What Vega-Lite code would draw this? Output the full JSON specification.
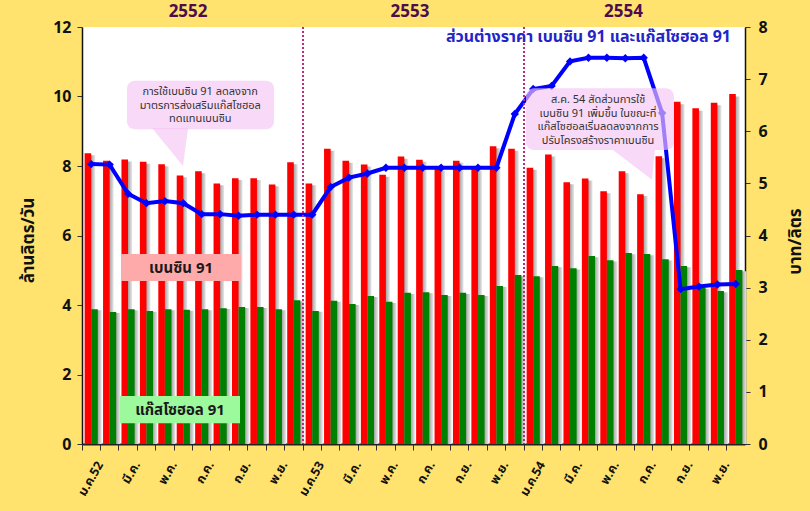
{
  "$schema": "https://vega.github.io/schema/vega-lite/v6.json",
  "width": 663,
  "height": 417,
  "autosize": "none",
  "padding": {"left": 82, "top": 27, "right": 65, "bottom": 67},
  "background": "#FFE36E",
  "config": {
    "view": {"stroke": null, "fill": "#FFFFFF"},
    "font": "Tahoma, Noto Sans Thai, Noto Sans, DejaVu Sans, sans-serif"
  },
  "data": {
    "values": [
      {"m": "ม.ค.52", "benzine": 8.37, "gasohol": 3.88, "diff": 5.37},
      {"m": "ก.พ.52", "benzine": 8.15, "gasohol": 3.80, "diff": 5.36},
      {"m": "มี.ค.52", "benzine": 8.19, "gasohol": 3.88, "diff": 4.80},
      {"m": "เม.ย.52", "benzine": 8.12, "gasohol": 3.83, "diff": 4.62},
      {"m": "พ.ค.52", "benzine": 8.05, "gasohol": 3.88, "diff": 4.66},
      {"m": "มิ.ย.52", "benzine": 7.73, "gasohol": 3.86, "diff": 4.62},
      {"m": "ก.ค.52", "benzine": 7.85, "gasohol": 3.88, "diff": 4.41},
      {"m": "ส.ค.52", "benzine": 7.50, "gasohol": 3.91, "diff": 4.41},
      {"m": "ก.ย.52", "benzine": 7.65, "gasohol": 3.94, "diff": 4.38},
      {"m": "ต.ค.52", "benzine": 7.65, "gasohol": 3.94, "diff": 4.40},
      {"m": "พ.ย.52", "benzine": 7.47, "gasohol": 3.88, "diff": 4.40},
      {"m": "ธ.ค.52", "benzine": 8.11, "gasohol": 4.14, "diff": 4.40},
      {"m": "ม.ค.53", "benzine": 7.50, "gasohol": 3.83, "diff": 4.40},
      {"m": "ก.พ.53", "benzine": 8.50, "gasohol": 4.12, "diff": 4.93},
      {"m": "มี.ค.53", "benzine": 8.15, "gasohol": 4.03, "diff": 5.11},
      {"m": "เม.ย.53", "benzine": 8.04, "gasohol": 4.26, "diff": 5.19},
      {"m": "พ.ค.53", "benzine": 7.75, "gasohol": 4.09, "diff": 5.30},
      {"m": "มิ.ย.53", "benzine": 8.27, "gasohol": 4.35, "diff": 5.30},
      {"m": "ก.ค.53", "benzine": 8.18, "gasohol": 4.37, "diff": 5.30},
      {"m": "ส.ค.53", "benzine": 7.92, "gasohol": 4.29, "diff": 5.30},
      {"m": "ก.ย.53", "benzine": 8.15, "gasohol": 4.35, "diff": 5.30},
      {"m": "ต.ค.53", "benzine": 7.92, "gasohol": 4.29, "diff": 5.30},
      {"m": "พ.ย.53", "benzine": 8.57, "gasohol": 4.55, "diff": 5.30},
      {"m": "ธ.ค.53", "benzine": 8.50, "gasohol": 4.86, "diff": 6.33},
      {"m": "ม.ค.54", "benzine": 7.95, "gasohol": 4.83, "diff": 6.81},
      {"m": "ก.พ.54", "benzine": 8.33, "gasohol": 5.12, "diff": 6.87},
      {"m": "มี.ค.54", "benzine": 7.53, "gasohol": 5.06, "diff": 7.34},
      {"m": "เม.ย.54", "benzine": 7.64, "gasohol": 5.41, "diff": 7.41},
      {"m": "พ.ค.54", "benzine": 7.27, "gasohol": 5.29, "diff": 7.41},
      {"m": "มิ.ย.54", "benzine": 7.85, "gasohol": 5.50, "diff": 7.40},
      {"m": "ก.ค.54", "benzine": 7.19, "gasohol": 5.47, "diff": 7.41},
      {"m": "ส.ค.54", "benzine": 8.28, "gasohol": 5.32, "diff": 6.35},
      {"m": "ก.ย.54", "benzine": 9.85, "gasohol": 5.12, "diff": 2.97},
      {"m": "ต.ค.54", "benzine": 9.66, "gasohol": 4.50, "diff": 3.02},
      {"m": "พ.ย.54", "benzine": 9.82, "gasohol": 4.40, "diff": 3.06},
      {"m": "ธ.ค.54", "benzine": 10.07, "gasohol": 5.01, "diff": 3.07}
    ]
  },
  "layer": [
    {
      "transform": [{"fold": ["benzine", "gasohol"], "as": ["series", "value"]}],
      "mark": {
        "type": "bar",
        "color": {"gradient": "linear", "x1": 0, "y1": 0, "x2": 1, "y2": 0,
          "stops": [{"offset": 0, "color": "#7a7a7a"}, {"offset": 1, "color": "#e8e8e8"}]}
      },
      "encoding": {
        "x": {"field": "m", "type": "nominal", "sort": null, "axis": null,
          "scale": {"paddingInner": 0, "paddingOuter": 0, "range": [4, 667]}},
        "xOffset": {"field": "series", "type": "nominal", "scale": {"paddingInner": 0, "paddingOuter": 0.4}},
        "y": {"field": "value", "type": "quantitative", "axis": null,
          "scale": {"domain": [0, 12], "nice": false, "range": [417, 3]}}
      }
    },
    {
      "transform": [{"fold": ["benzine", "gasohol"], "as": ["series", "value"]}],
      "mark": {"type": "bar"},
      "encoding": {
        "x": {
          "field": "m", "type": "nominal", "sort": null,
          "scale": {"paddingInner": 0, "paddingOuter": 0},
          "axis": {
            "title": null, "bandPosition": 0, "labelOffset": 9,
            "labelAngle": -60, "labelAlign": "right", "labelBaseline": "middle",
            "labelFontWeight": "bold", "labelFontSize": 12.5, "labelColor": "#111111",
            "labelPadding": 12, "tickSize": 6, "tickColor": "#333333",
            "domainColor": "#222222", "domainWidth": 2,
            "labelExpr": "indexof(['มี.ค.','พ.ค.','ก.ค.','ก.ย.','พ.ย.'], slice(datum.value, 0, -2)) >= 0 ? slice(datum.value, 0, -2) : (slice(datum.value, 0, 4) == 'ม.ค.' ? datum.value : '')"
          }
        },
        "xOffset": {"field": "series", "type": "nominal", "scale": {"paddingInner": 0, "paddingOuter": 0.4}},
        "y": {
          "field": "value", "type": "quantitative",
          "scale": {"domain": [0, 12], "nice": false},
          "axis": {
            "orient": "left", "values": [0, 2, 4, 6, 8, 10, 12], "grid": false,
            "labelFontSize": 16, "labelFontWeight": "bold", "labelColor": "#111111", "labelPadding": 6,
            "tickSize": 5, "tickColor": "#333333", "domainColor": "#111111", "domainWidth": 1.5,
            "title": "ล้านลิตร/วัน", "titleFontSize": 17, "titleFontWeight": "bold", "titleColor": "#111111",
            "titleAngle": -90, "titleX": -54, "titleY": 213, "titleAlign": "center", "titleBaseline": "middle"
          }
        },
        "color": {"field": "series", "type": "nominal",
          "scale": {"domain": ["benzine", "gasohol"], "range": ["#FF0000", "#008000"]}, "legend": null}
      }
    },
    {
      "encoding": {
        "x": {"field": "m", "type": "nominal", "sort": null, "axis": null},
        "y": {
          "field": "diff", "type": "quantitative",
          "scale": {"domain": [0, 8], "nice": false},
          "axis": {
            "orient": "right", "values": [0, 1, 2, 3, 4, 5, 6, 7, 8], "grid": false,
            "labelFontSize": 16, "labelFontWeight": "bold", "labelColor": "#111111", "labelPadding": 8,
            "tickSize": 5, "tickColor": "#333333", "domainColor": "#111111", "domainWidth": 1.5,
            "title": "บาท/ลิตร", "titleFontSize": 17, "titleFontWeight": "bold", "titleColor": "#111111",
            "titleAngle": -90, "titleX": 50, "titleY": 214, "titleAlign": "center", "titleBaseline": "middle"
          }
        }
      },
      "layer": [
        {"mark": {"type": "line", "color": "#0000FF", "strokeWidth": 4}},
        {"mark": {"type": "point", "shape": "diamond", "filled": true, "size": 70, "color": "#0000FF", "opacity": 1}}
      ]
    },
    {
      "data": {"values": [{}]},
      "layer": [
        {
          "mark": {"type": "rule", "color": "#C0287A", "strokeWidth": 2, "strokeDash": [2, 2]},
          "encoding": {"x": {"datum": 12, "type": "quantitative", "scale": {"domain": [0, 36], "nice": false, "zero": false}, "axis": null}}
        },
        {
          "mark": {"type": "rule", "color": "#C0287A", "strokeWidth": 2, "strokeDash": [2, 2]},
          "encoding": {"x": {"datum": 24, "type": "quantitative", "axis": null}}
        },
        {
          "mark": {"type": "rect", "color": "#F5C4F2", "opacity": 0.65, "cornerRadius": 8},
          "encoding": {
            "x": {"datum": 2.44, "type": "quantitative", "axis": null}, "x2": {"datum": 10.43},
            "y": {"datum": 10.45, "type": "quantitative", "scale": {"domain": [0, 12], "nice": false, "zero": false}, "axis": null}, "y2": {"datum": 9.06}
          }
        },
        {
          "mark": {"type": "point", "shape": "M -0.95 -1 L 0.95 -1 L 0.68 1 Z", "filled": true, "size": 1444, "color": "#F5C4F2", "opacity": 0.65, "strokeWidth": 0},
          "encoding": {"x": {"datum": 4.78, "type": "quantitative", "axis": null}, "y": {"datum": 8.55, "type": "quantitative", "axis": null}}
        },
        {
          "mark": {"type": "text", "text": ["การใช้เบนซิน 91 ลดลงจาก", "มาตรการส่งเสริมแก๊สโซฮอล", "ทดแทนเบนซิน"],
            "fontSize": 11, "lineHeight": 13.5, "color": "#333333", "align": "center", "baseline": "middle"},
          "encoding": {"x": {"datum": 6.42, "type": "quantitative", "axis": null}, "y": {"datum": 10.12, "type": "quantitative", "axis": null}}
        },
        {
          "mark": {"type": "rect", "color": "#F5C4F2", "opacity": 0.65, "cornerRadius": 8},
          "encoding": {
            "x": {"datum": 24.11, "type": "quantitative", "axis": null}, "x2": {"datum": 32.14},
            "y": {"datum": 10.24, "type": "quantitative", "axis": null}, "y2": {"datum": 8.46}
          }
        },
        {
          "mark": {"type": "point", "shape": "M -1 -0.71 L 1 -0.71 L 0.86 0.71 Z", "filled": true, "size": 1764, "color": "#F5C4F2", "opacity": 0.65, "strokeWidth": 0},
          "encoding": {"x": {"datum": 29.97, "type": "quantitative", "axis": null}, "y": {"datum": 8.03, "type": "quantitative", "axis": null}}
        },
        {
          "mark": {"type": "text", "text": ["ส.ค. 54 สัดส่วนการใช้", "เบนซิน 91 เพิ่มขึ้น ในขณะที่", "แก๊สโซฮอลเริ่มลดลงจากการ", "ปรับโครงสร้างราคาเบนซิน"],
            "fontSize": 11, "lineHeight": 13.4, "color": "#333333", "align": "center", "baseline": "middle"},
          "encoding": {"x": {"datum": 28.02, "type": "quantitative", "axis": null}, "y": {"datum": 9.89, "type": "quantitative", "axis": null}}
        },
        {
          "mark": {"type": "rect", "color": "#FFAAAA", "opacity": 1},
          "encoding": {
            "x": {"datum": 2.12, "type": "quantitative", "axis": null}, "x2": {"datum": 8.63},
            "y": {"datum": 5.47, "type": "quantitative", "axis": null}, "y2": {"datum": 4.69}
          }
        },
        {
          "mark": {"type": "text", "text": "เบนซิน 91", "fontSize": 15, "fontWeight": "bold", "color": "#1a1a1a", "align": "center", "baseline": "middle"},
          "encoding": {"x": {"datum": 5.38, "type": "quantitative", "axis": null}, "y": {"datum": 5.06, "type": "quantitative", "axis": null}}
        },
        {
          "mark": {"type": "rect", "color": "#9CF99C", "opacity": 1},
          "encoding": {
            "x": {"datum": 2.06, "type": "quantitative", "axis": null}, "x2": {"datum": 8.58},
            "y": {"datum": 1.38, "type": "quantitative", "axis": null}, "y2": {"datum": 0.60}
          }
        },
        {
          "mark": {"type": "text", "text": "แก๊สโซฮอล 91", "fontSize": 15, "fontWeight": "bold", "color": "#1a1a1a", "align": "center", "baseline": "middle"},
          "encoding": {"x": {"datum": 5.32, "type": "quantitative", "axis": null}, "y": {"datum": 0.98, "type": "quantitative", "axis": null}}
        },
        {
          "mark": {"type": "text", "text": "ส่วนต่างราคา เบนซิน 91 และแก๊สโซฮอล 91", "fontSize": 16, "fontWeight": "bold", "color": "#2424C8", "align": "right", "baseline": "middle"},
          "encoding": {"x": {"datum": 35.24, "type": "quantitative", "axis": null}, "y": {"datum": 11.71, "type": "quantitative", "axis": null}}
        },
        {
          "mark": {"type": "text", "text": "2552", "fontSize": 17, "fontWeight": "bold", "color": "#4D0D4D", "align": "center", "baseline": "middle"},
          "encoding": {"x": {"datum": 5.76, "type": "quantitative", "axis": null}, "y": {"datum": 12.43, "type": "quantitative", "axis": null}}
        },
        {
          "mark": {"type": "text", "text": "2553", "fontSize": 17, "fontWeight": "bold", "color": "#4D0D4D", "align": "center", "baseline": "middle"},
          "encoding": {"x": {"datum": 17.81, "type": "quantitative", "axis": null}, "y": {"datum": 12.43, "type": "quantitative", "axis": null}}
        },
        {
          "mark": {"type": "text", "text": "2554", "fontSize": 17, "fontWeight": "bold", "color": "#4D0D4D", "align": "center", "baseline": "middle"},
          "encoding": {"x": {"datum": 29.4, "type": "quantitative", "axis": null}, "y": {"datum": 12.43, "type": "quantitative", "axis": null}}
        }
      ]
    }
  ],
  "resolve": {"scale": {"x": "independent", "y": "independent", "xOffset": "independent"}}
}
